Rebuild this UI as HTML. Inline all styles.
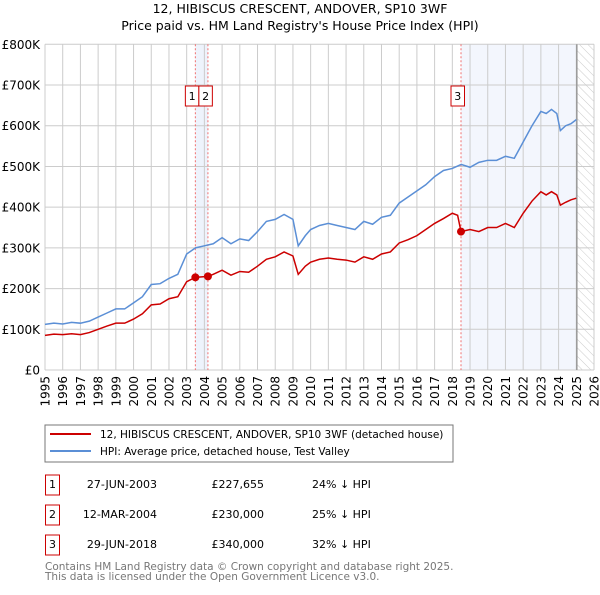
<!DOCTYPE html>
<html><head><meta charset="utf-8"><style>
body{margin:0;background:#fff;font-family:"Liberation Sans","DejaVu Sans",sans-serif;}
svg text{font-family:"DejaVu Sans","Liberation Sans",sans-serif;}
</style></head><body>
<svg width="600" height="590" viewBox="0 0 600 590" id="c">
<defs><pattern id="hatch" width="6" height="6" patternUnits="userSpaceOnUse" patternTransform="rotate(-45)"><line x1="0" y1="0" x2="0" y2="6" stroke="#ccc" stroke-width="1"/></pattern></defs>
<text x="300" y="13" font-size="12.5" text-anchor="middle">12, HIBISCUS CRESCENT, ANDOVER, SP10 3WF</text>
<text x="300" y="30" font-size="12.5" text-anchor="middle">Price paid vs. HM Land Registry's House Price Index (HPI)</text>
<g id="plot"></g>
<rect x="45" y="425" width="408" height="37" fill="#fff" stroke="#777"/>
<line x1="50" y1="434" x2="91" y2="434" stroke="#cc0000" stroke-width="2"/>
<text x="100" y="438" font-size="10.5">12, HIBISCUS CRESCENT, ANDOVER, SP10 3WF (detached house)</text>
<line x1="50" y1="451" x2="91" y2="451" stroke="#5b8fd6" stroke-width="2"/>
<text x="100" y="455" font-size="10.5">HPI: Average price, detached house, Test Valley</text>
<g font-size="11">
<rect x="45.5" y="475" width="14" height="20" fill="none" stroke="#cc0000"/><text x="52.5" y="488" text-anchor="middle">1</text>
<text x="157" y="488" text-anchor="end">27-JUN-2003</text><text x="264" y="488" text-anchor="end">£227,655</text><text x="312" y="488">24% ↓ HPI</text>
<rect x="45.5" y="505" width="14" height="20" fill="none" stroke="#cc0000"/><text x="52.5" y="518" text-anchor="middle">2</text>
<text x="157" y="518" text-anchor="end">12-MAR-2004</text><text x="264" y="518" text-anchor="end">£230,000</text><text x="312" y="518">25% ↓ HPI</text>
<rect x="45.5" y="535" width="14" height="20" fill="none" stroke="#cc0000"/><text x="52.5" y="548" text-anchor="middle">3</text>
<text x="157" y="548" text-anchor="end">29-JUN-2018</text><text x="264" y="548" text-anchor="end">£340,000</text><text x="312" y="548">32% ↓ HPI</text>
</g>
<text x="45" y="570" font-size="10.5" fill="#777">Contains HM Land Registry data © Crown copyright and database right 2025.</text>
<text x="45" y="580" font-size="10.5" fill="#777">This data is licensed under the Open Government Licence v3.0.</text>
</svg>
<script>
const yTicks=[0,100,200,300,400,500,600,700,800];
const yTickLabels=["£0","£100K","£200K","£300K","£400K","£500K","£600K","£700K","£800K"];
const xYears=[1995,1996,1997,1998,1999,2000,2001,2002,2003,2004,2005,2006,2007,2008,2009,2010,2011,2012,2013,2014,2015,2016,2017,2018,2019,2020,2021,2022,2023,2024,2025,2026];
const hpiT=[1995,1995.5,1996,1996.5,1997,1997.5,1998,1998.5,1999,1999.5,2000,2000.5,2001,2001.5,2002,2002.5,2003,2003.5,2004,2004.5,2005,2005.5,2006,2006.5,2007,2007.5,2008,2008.5,2009,2009.3,2009.7,2010,2010.5,2011,2011.5,2012,2012.5,2013,2013.5,2014,2014.5,2015,2015.5,2016,2016.5,2017,2017.5,2018,2018.5,2019,2019.5,2020,2020.5,2021,2021.5,2022,2022.5,2023,2023.3,2023.6,2023.9,2024.1,2024.4,2024.7,2025];
const hpiV=[112,115,113,117,115,120,130,140,150,150,165,180,210,212,225,235,285,300,305,310,325,310,322,318,340,365,370,382,370,305,330,345,355,360,355,350,345,365,358,375,380,410,425,440,455,475,490,495,505,498,510,515,515,525,520,560,600,635,630,640,630,588,600,605,615];
const redT=[1995,1995.5,1996,1996.5,1997,1997.5,1998,1998.5,1999,1999.5,2000,2000.5,2001,2001.5,2002,2002.5,2003,2003.49,2004.2,2004.5,2005,2005.5,2006,2006.5,2007,2007.5,2008,2008.5,2009,2009.3,2009.7,2010,2010.5,2011,2011.5,2012,2012.5,2013,2013.5,2014,2014.5,2015,2015.5,2016,2016.5,2017,2017.5,2018,2018.3,2018.49,2019,2019.5,2020,2020.5,2021,2021.5,2022,2022.5,2023,2023.3,2023.6,2023.9,2024.1,2024.4,2024.7,2025];
const redV=[85,88,87,89,87,92,100,108,115,115,125,138,160,162,175,180,217,227.655,230,235,245,233,242,240,255,272,278,290,280,235,255,265,272,275,272,270,265,278,272,285,290,312,320,330,345,360,372,385,380,340,345,340,350,350,360,350,385,415,438,430,438,430,405,412,418,422];
const salesT=[2003.49,2004.2,2018.49];
const salesV=[227.655,230,340];
const salesLabels=["1","2","3"];
const NS="http://www.w3.org/2000/svg";
const X0=45,X1=594,Y0=370,Y1=44.3;
const xs=t=>X0+(t-1995)/31*(X1-X0);
const ys=v=>Y0-v/800*(Y0-Y1);
const g=document.getElementById('plot');
function mk(tag,attrs,parent){const e=document.createElementNS(NS,tag);for(const k in attrs)e.setAttribute(k,attrs[k]);(parent||g).appendChild(e);return e;}
let e;
e=mk('rect',{x:xs(salesT[0]),y:Y1,width:xs(salesT[1])-xs(salesT[0]),height:Y0-Y1,fill:'#eef3fc'});

e=mk('rect',{x:xs(salesT[2]),y:Y1,width:xs(2025.03)-xs(salesT[2]),height:Y0-Y1,fill:'#f3f6fd'});

e=mk('rect',{x:xs(2025.03),y:Y1,width:X1-xs(2025.03),height:Y0-Y1,fill:'url(#hatch)'});

yTicks.forEach((v,i)=>{
 e=mk('line',{x1:X0,x2:X1,y1:ys(v),y2:ys(v),stroke:'#ccc'});
 
 e=mk('text',{x:40,y:ys(v)+4.5,'font-size':12,'text-anchor':'end'});e.textContent=yTickLabels[i];
 
});
xYears.forEach(yr=>{
 e=mk('line',{x1:xs(yr),x2:xs(yr),y1:Y1,y2:Y0,stroke:'#ccc'});
 
 e=mk('text',{x:0,y:0,'font-size':12,'text-anchor':'end',transform:`translate(${xs(yr)+4.5},${Y0+6}) rotate(-90)`});e.textContent=yr;
 
});
e=mk('line',{x1:xs(2025.03),x2:xs(2025.03),y1:Y1,y2:Y0,stroke:'#999','stroke-width':1.5});

salesT.forEach(t=>{
 e=mk('line',{x1:xs(t),x2:xs(t),y1:Y1,y2:Y0,stroke:'#f07070','stroke-dasharray':'2,2'});
 
});
e=mk('polyline',{points:hpiT.map((t,i)=>xs(t)+','+ys(hpiV[i])).join(' '),fill:'none',stroke:'#5b8fd6','stroke-width':1.5});

e=mk('polyline',{points:redT.map((t,i)=>xs(t)+','+ys(redV[i])).join(' '),fill:'none',stroke:'#cc0000','stroke-width':1.5});

salesT.forEach((t,i)=>{
 e=mk('circle',{cx:xs(t),cy:ys(salesV[i]),r:4,fill:'#cc0000'});
 
});
salesLabels.forEach((l,i)=>{
 const bx=i==1?xs(salesT[0])+3.5:(i==0?xs(salesT[0])-10:xs(salesT[2])-10);
 e=mk('rect',{x:bx,y:86,width:13.5,height:20,fill:'#fff',stroke:'#cc0000'});
 
 e=mk('text',{x:bx+6.75,y:100,'font-size':11,'text-anchor':'middle'});e.textContent=l;
 
});
</script>
</body></html>
